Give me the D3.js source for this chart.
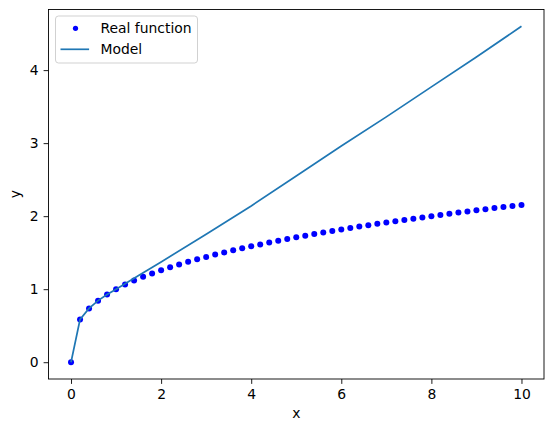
<!DOCTYPE html>
<html>
<head>
<meta charset="utf-8">
<script src="https://cdn.jsdelivr.net/npm/d3@7"></script>
<style>
	body { margin: 0; background: #fff; }
	text { font-family: "DejaVu Sans", sans-serif; }
</style>
</head>
<body>
<div id="chart"></div>
<script>
// real function samples (x step 0.2)
let real_x = [0,0.2,0.4,0.6,0.8,1,1.2,1.4,1.6,1.8,2,2.2,2.4,2.6,2.8,3,3.2,3.4,3.6,3.8,4,
	4.2,4.4,4.6,4.8,5,5.2,5.4,5.6,5.8,6,6.2,6.4,6.6,6.8,7,7.2,7.4,7.6,7.8,8,
	8.2,8.4,8.6,8.8,9,9.2,9.4,9.6,9.8,10];
let real_y = [0,0.585,0.737,0.843,0.928,1.000,1.063,1.119,1.170,1.216,1.260,1.300,1.339,1.375,1.409,1.442,1.474,1.504,1.533,1.560,1.587,
	1.613,1.639,1.663,1.687,1.710,1.732,1.754,1.776,1.797,1.817,1.837,1.857,1.876,1.895,1.913,1.931,1.949,1.966,1.983,2.000,
	2.017,2.033,2.049,2.065,2.080,2.095,2.110,2.125,2.140,2.154];

// model curve
let model_x = [0,0.2,0.4,0.6,0.8,1,1.5,2,3,4,5,6,7,8,9,10];
let model_y = [0,0.585,0.737,0.843,0.928,1.0,1.186,1.373,1.753,2.14,2.55,2.96,3.36,3.77,4.18,4.60];

let x_ticks = [0,2,4,6,8,10];
let y_ticks = [0,1,2,3,4];
let legend_labels = ["Real function", "Model"];

function chart() {
	let window_w = 554, window_h = 432;
	let margin = {top: 9.5, right: 10, bottom: 53, left: 48.5},
		width = window_w - (margin.left + margin.right),
		height = window_h - (margin.top + margin.bottom);
	let font = "13.9px";

	let svg = d3.select("#chart")
		.append("svg")
		.attr("width", window_w)
		.attr("height", window_h);

	let plot = svg.append("g")
		.attr("transform", "translate(" + margin.left + "," + margin.top + ")");

	let x = d3.scaleLinear().domain([-0.5, 10.5]).range([0, width]);
	let y = d3.scaleLinear().domain([-0.23, 4.83]).range([height, 0]);

	let x_axis = plot.append("g")
		.attr("transform", "translate(0," + height + ")")
		.call(d3.axisBottom(x).tickValues(x_ticks).tickSize(4.9).tickPadding(4.9).tickFormat(d3.format("d")));
	let y_axis = plot.append("g")
		.call(d3.axisLeft(y).tickValues(y_ticks).tickSize(4.9).tickPadding(4.9).tickFormat(d3.format("d")));

	[x_axis, y_axis].forEach(function(a) {
		a.select(".domain").remove();
		a.selectAll("line").attr("stroke", "#000").attr("stroke-width", 0.9);
		a.selectAll("text").attr("font-size", font).attr("fill", "#000")
			.style("font-family", "DejaVu Sans, sans-serif");
	});

	let dots = real_x.map(function(d, i) { return {x: d, y: real_y[i]}; });
	let model = model_x.map(function(d, i) { return {x: d, y: model_y[i]}; });

	plot.append("g")
		.selectAll("circle")
		.data(dots)
		.enter()
		.append("circle")
		.attr("cx", function(d) { return x(d.x); })
		.attr("cy", function(d) { return y(d.y); })
		.attr("r", 3)
		.attr("fill", "#0000ff");

	let line = d3.line()
		.x(function(d) { return x(d.x); })
		.y(function(d) { return y(d.y); });

	plot.append("path")
		.datum(model)
		.attr("d", line)
		.attr("fill", "none")
		.attr("stroke", "#1f77b4")
		.attr("stroke-width", 1.7);

	// frame
	plot.append("rect")
		.attr("x", 0).attr("y", 0)
		.attr("width", width).attr("height", height)
		.attr("fill", "none")
		.attr("stroke", "#000")
		.attr("stroke-width", 0.9);

	// axis labels
	svg.append("text")
		.text("x")
		.attr("x", margin.left + width / 2)
		.attr("y", 418)
		.attr("text-anchor", "middle")
		.attr("font-size", font);
	svg.append("text")
		.text("y")
		.attr("transform", "translate(20," + (margin.top + height / 2) + ") rotate(-90)")
		.attr("text-anchor", "middle")
		.attr("font-size", font);

	// legend
	let legend = plot.append("g").attr("transform", "translate(7,6.5)");
	legend.append("rect")
		.attr("width", 142).attr("height", 47)
		.attr("rx", 3)
		.attr("fill", "#fff").attr("fill-opacity", 0.8)
		.attr("stroke", "#ccc").attr("stroke-width", 0.9);
	legend.append("circle")
		.attr("cx", 20).attr("cy", 12.3).attr("r", 2.6)
		.attr("fill", "#0000ff");
	legend.append("line")
		.attr("x1", 5).attr("x2", 33.6).attr("y1", 33.3).attr("y2", 33.3)
		.attr("stroke", "#1f77b4").attr("stroke-width", 1.7);
	legend.selectAll(".lbl")
		.data(legend_labels)
		.enter()
		.append("text")
		.attr("class", "lbl")
		.text(function(d) { return d; })
		.attr("x", 45)
		.attr("y", function(d, i) { return 16.7 + i * 21.3; })
		.attr("font-size", font);
}

chart();
</script>
</body>
</html>
